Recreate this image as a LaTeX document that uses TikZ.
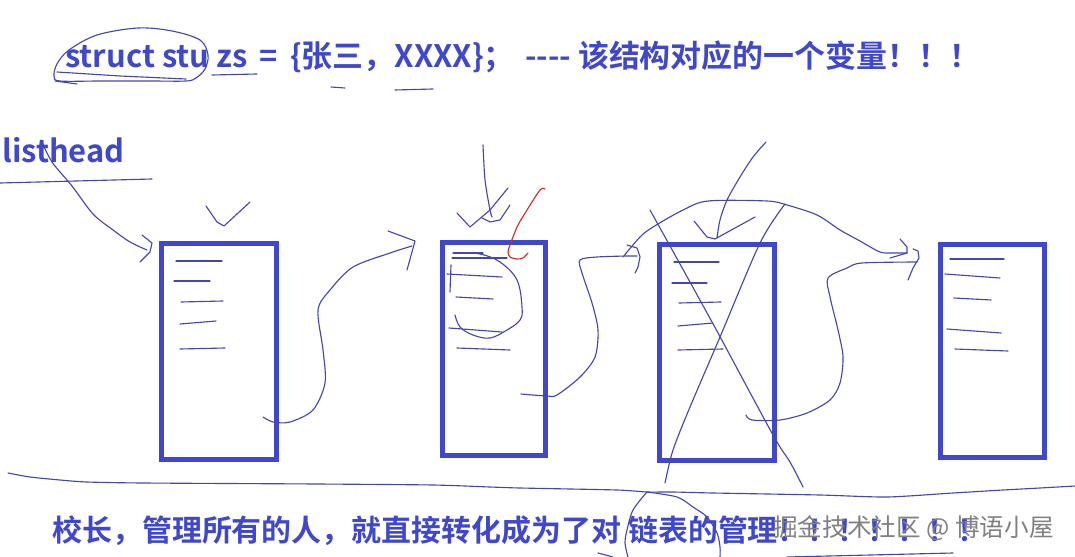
\documentclass[tikz,border=0pt]{standalone}
\usepackage{fontspec}
\newfontfamily\cjk{Noto Sans CJK SC}[BoldFont={Noto Sans CJK SC Bold}]
\usepackage{tikz}
\usetikzlibrary{positioning}
\definecolor{ink}{HTML}{3F48CC}
\definecolor{penblue}{HTML}{4545B0}
\definecolor{penred}{HTML}{D22A2A}
\definecolor{mark}{HTML}{808080}
\tikzset{
  stroke/.style={draw=penblue, line width=0.8pt, line cap=round, line join=round},
  redstroke/.style={draw=penred, line width=0.8pt, line cap=round, line join=round},
  listbox/.style={draw=ink, line width=0.125cm, inner sep=0pt, minimum width=#1},
  bigtext/.style={text=ink, font=\cjk\bfseries\fontsize{22}{26}\selectfont, inner sep=0pt}
}

\begin{document}
\begin{tikzpicture}[x=0.025cm, y=-0.025cm]
  \useasboundingbox (0,0) rectangle (1075,557);
  % texts
  \node[bigtext, anchor=base west] (title) at (65,68) {struct stu zs \,=\, \{张三，XXXX\}；};
  \node[bigtext, anchor=base west] (remark) at (525,68) {---- 该结构对应的一个变量！！！};
  \node[bigtext, anchor=base west] (listhead) at (2,163) {listhead};
  \node[bigtext, anchor=base west, font=\cjk\bfseries\fontsize{21.3}{25}\selectfont] (summary) at (52,541) {校长，管理所有的人，就直接转化成为了对 链表的管理！！！！！！！};
  \node[text=mark, anchor=base west, inner sep=0pt, font=\cjk\fontsize{17.5}{20}\selectfont] (source) at (773,536) {掘金技术社区 @ 博语小屋};
  % marks on the title
  \draw[stroke] plot[smooth cycle, tension=0.55] coordinates {(186,81) (150,81) (100,81) (60,81) (54,76) (57,64) (69,50) (97,35) (138,28) (172,31) (200,40) (208,55) (205,69) (196,78)};
  \draw[stroke] (57,72) -- (120,76) -- (186,79);
  \draw[stroke] (55,81) -- (77,84);
  \draw[stroke] (212,75) -- (257,74);
  \draw[stroke] (331,87) -- (345,88);
  \draw[stroke] (395,90) -- (433,89);
  \draw[stroke] (0,183) -- (152,179);
  % list nodes
  \node[listbox=115*0.025cm, minimum height=216*0.025cm] (n1) at (219,351.5) {};
  \node[listbox=103*0.025cm, minimum height=213*0.025cm] (n2) at (494,349) {};
  \node[listbox=115*0.025cm, minimum height=216*0.025cm] (n3) at (717,352.5) {};
  \node[listbox=104*0.025cm, minimum height=213*0.025cm] (n4) at (992.5,351) {};
  % members scribbled in the nodes
  \foreach \xa/\ya/\xb/\yb in {176/261/222/261, 174/281/210/281, 181/302/223/301, 180/324/216/321, 180/349/225/348,
                     453/253/483/253, 452/258/507/258, 447/274/502/277, 456/297/493/299, 449/328/502/332, 457/348/510/350,
                     674/262/719/262, 672/283/707/283, 679/303/721/302, 678/326/713/323, 678/350/723/349,
                     950/259/1004/259, 945/274/1000/278, 954/298/991/300, 947/329/1001/333, 955/349/1008/351}{
    \draw[stroke] (\xa,\ya) -- (\xb,\yb);
  }
  \draw[stroke] (451,265) -- (450,292);
  \draw[stroke] plot[smooth, tension=0.6] coordinates {(460,253) (480,254) (500,262) (517,280) (522,307) (520,320) (507,330) (490,338) (473,335) (460,327) (455,315)};
  % listhead -> n1
  \draw[stroke] plot[smooth] coordinates {(41,140) (52,162) (72,186) (93,214) (113,230) (130,242) (147,250)};
  \draw[stroke] (142,235) -- (152,243) -- (150,252) -- (140,262);
  \draw[stroke] (206,206) -- (217,222) -- (224,226) -- (250,202);
  % n1 -> n2
  \draw[stroke] plot[smooth] coordinates {(263,417) (273,422) (290,422) (313,410) (325,383) (323,350) (318,310) (330,290) (353,267) (390,253) (412,246)};
  \draw[stroke] (388,231) -- (415,241) -- (407,270);
  % pointer into n2
  \draw[stroke] plot[smooth] coordinates {(483,145) (485,180) (490,210) (492,217)};
  \draw[stroke] (457,213) -- (470,227) -- (490,210) -- (508,188);
  \draw[stroke] (482,218) -- (490,222) -- (500,220) -- (510,205);
  \draw[redstroke] plot[smooth] coordinates {(545,189) (540,190) (527,210) (518,225) (513,237) (510,245) (508,252) (510,257) (517,259) (523,258) (528,253)};
  % n2 -> n3
  \draw[stroke] plot[smooth] coordinates {(521,394) (547,396) (557,395) (580,377) (595,357) (598,330) (592,303) (582,273) (580,260) (597,257) (627,256) (637,256)};
  \draw[stroke] (627,245) -- (637,248) -- (640,257) -- (638,267) -- (635,273);
  % n2 -> n4 (over n3)
  \draw[stroke] plot[smooth] coordinates {(623,257) (640,237) (653,227) (683,210) (708,201) (767,201) (787,205) (817,215) (840,230) (860,241) (880,252) (893,253) (907,253)};
  \draw[stroke] (900,239) -- (907,247) -- (907,253) -- (890,258);
  % pointer into n3
  \draw[stroke] plot[smooth] coordinates {(766,142) (753,157) (740,177) (727,200) (720,220) (717,238)};
  \draw[stroke] (694,221) -- (707,237) -- (715,239) -- (755,217);
  % n3 crossed out
  \draw[stroke] plot[smooth] coordinates {(650,210) (712,322) (773,435) (790,462) (803,487)};
  \draw[stroke] plot[smooth] coordinates {(785,204) (760,243) (720,337) (690,407) (673,450) (665,483)};
  % n3 -> n4
  \draw[stroke] plot[smooth] coordinates {(746,415) (752,420) (780,420) (807,413) (830,400) (840,383) (843,357) (838,330) (830,297) (828,278) (847,268) (862,263) (917,262)};
  \draw[stroke] (913,249) -- (918,251) -- (919,258) -- (913,268) -- (908,280);
  % dividing line
  \draw[stroke] plot[smooth, tension=0.4] coordinates {(8,473) (30,477) (60,480) (87,482) (143,483) (317,484) (433,485) (490,487) (520,488) (617,490) (647,492) (673,492) (713,493) (820,495) (887,497) (953,493) (1003,490) (1040,488) (1075,486)};
  \draw[stroke] plot[smooth] coordinates {(647,492) (633,510) (627,530) (625,543) (628,557)};
  \draw[stroke] plot[smooth] coordinates {(647,492) (677,497) (693,507) (707,517) (717,533) (720,547) (720,557)};
  \draw[stroke] (598,553) -- (613,557);
  \draw[stroke] (787,557) -- (870,555) -- (953,553);
\end{tikzpicture}
\end{document}
